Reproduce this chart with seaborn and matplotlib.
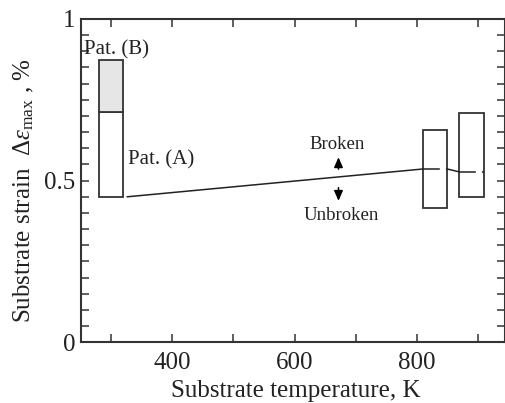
import matplotlib
matplotlib.use("Agg")
import matplotlib.pyplot as plt
import seaborn as sns
import pandas as pd

# Strain windows (substrate temperature, K -> strain range, %)
box_temp = [300, 830, 890]
box_width = [40, 40, 40]
box_low = [0.450, 0.415, 0.449]
box_high = [0.713, 0.656, 0.709]

# Pattern (B) band on top of the room-temperature window
patb_low = [0.713]
patb_high = [0.872]

# Broken / unbroken boundary
bound_temp = [326, 810]
bound_strain = [0.450, 0.536]
bound_box2_temp = [810, 850]
bound_box2_strain = [0.536, 0.536]
bound_link_temp = [850, 870]
bound_link_strain = [0.536, 0.527]
bound_box3_temp = [870, 910]
bound_box3_strain = [0.527, 0.527]

xticks = [400, 600, 800]
yticks = [0, 0.5, 1]
ytick_labels = ["0", "0.5", "1"]

sns.set_theme(style="ticks")
plt.rcParams["font.family"] = ["Liberation Serif", "DejaVu Serif"]
plt.rcParams["mathtext.fontset"] = "custom"
plt.rcParams["mathtext.rm"] = "Liberation Serif"
plt.rcParams["mathtext.it"] = "Liberation Serif:italic"

ink = "#222222"
edge = "#333333"

fig = plt.figure(figsize=(5.06, 4.03), dpi=100)
ax = fig.add_axes([0.1594, 0.1506, 0.8392, 0.8023])

# Windows
ax.bar(box_temp, [h - l for h, l in zip(box_high, box_low)], width=box_width,
       bottom=box_low, color="white", edgecolor=edge, linewidth=1.3, zorder=2)
ax.bar(box_temp[:1], [h - l for h, l in zip(patb_high, patb_low)], width=box_width[:1],
       bottom=patb_low, color="#e6e6e6", edgecolor=edge, linewidth=1.3, zorder=2)

# Boundary line
line_kw = dict(color=ink, linewidth=1.1, zorder=3)
sns.lineplot(x=bound_temp, y=bound_strain, ax=ax, **line_kw)
sns.lineplot(x=bound_link_temp, y=bound_link_strain, ax=ax, **line_kw)
for tx, sy in [(bound_box2_temp, bound_box2_strain), (bound_box3_temp, bound_box3_strain)]:
    sns.lineplot(x=tx, y=sy, ax=ax, linestyle=(0, (11, 4, 4, 4)), **line_kw)

# Annotations
ax.text(256, 0.904, "Pat. (B)", fontsize=15, color=ink, va="center", ha="left", zorder=4)
ax.text(328, 0.564, "Pat. (A)", fontsize=15, color=ink, va="center", ha="left")
ax.text(670, 0.612, "Broken", fontsize=13.5, color=ink, va="center", ha="center")
ax.text(676, 0.392, "Unbroken", fontsize=13.5, color=ink, va="center", ha="center")
arrow = dict(arrowstyle="-|>,head_length=0.5,head_width=0.22", color="black", lw=1.1)
ax.annotate("", xy=(672, 0.581), xytext=(672, 0.527), arrowprops=arrow)
ax.annotate("", xy=(672, 0.429), xytext=(672, 0.487), arrowprops=arrow)

ax.set_xlim(250, 945)
ax.set_ylim(0, 1)
ax.set_xticks(xticks)
ax.set_xticks([300, 500, 700, 900], minor=True)
ax.set_yticks(yticks)
ax.set_yticklabels(ytick_labels)
ax.set_yticks([i * 0.05 for i in range(1, 20) if i % 10 != 0], minor=True)

ax.tick_params(which="both", direction="in", top=True, right=True, length=5.5,
               width=1.1, color=edge, labelsize=18, labelcolor=ink)
ax.tick_params(axis="x", pad=7)
ax.tick_params(axis="y", pad=4)
for s in ax.spines.values():
    s.set_visible(True)
    s.set_color(edge)
    s.set_linewidth(1.5)

ax.set_xlabel("Substrate temperature, K", fontsize=18, color=ink)
ax.set_ylabel(r"Substrate strain  $\Delta\mathit{\varepsilon}_{\mathrm{max}}$ , %", fontsize=18, color=ink)
ax.xaxis.set_label_coords(0.506, -0.118)
ax.yaxis.set_label_coords(-0.104, 0.47)

fig.savefig("out.png", dpi=100)
